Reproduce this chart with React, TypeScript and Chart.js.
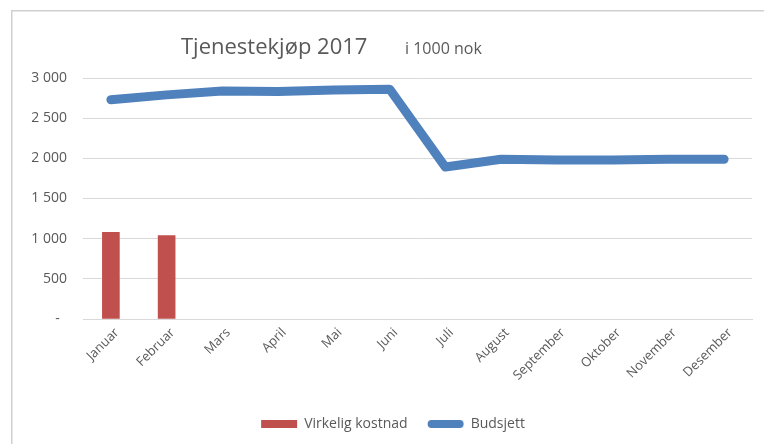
import React, { useEffect, useRef } from "react";
import { Chart, registerables } from "chart.js";

Chart.register(...registerables);

const months = [
  "Januar", "Februar", "Mars", "April", "Mai", "Juni",
  "Juli", "August", "September", "Oktober", "November", "Desember",
];
const actualCost = [1080, 1037, null, null, null, null, null, null, null, null, null, null];
const budget = [2730, 2790, 2838, 2832, 2850, 2860, 1892, 1988, 1980, 1980, 1988, 1988];
const yTicks = [0, 500, 1000, 1500, 2000, 2500, 3000];
const titleText = "Tjenestekjøp 2017";
const unitText = "i 1000 nok";
const seriesNames = ["Virkelig kostnad", "Budsjett"];

const FONT = "'Open Sans', sans-serif";
const GRAY = "#595959";
const GRID = "#D9D9D9";
const RED = "#C0504D";
const BLUE = "#4F81BD";

function fmt(v: number): string {
  if (v === 0) return "-  ";
  return String(v).replace(/\B(?=(\d{3})+(?!\d))/g, " ");
}

const decorPlugin = {
  id: "decor",
  afterLayout(chart: any) {
    const lg = chart.legend;
    if (lg) {
      lg.left += 17;
      lg.right += 17;
    }
  },
  beforeDraw(chart: any) {
    const ctx = chart.ctx;
    ctx.save();
    ctx.fillStyle = "#ffffff";
    ctx.fillRect(0, 0, chart.width, chart.height);
    ctx.strokeStyle = "#D0D0D0";
    ctx.lineWidth = 1.5;
    ctx.strokeRect(11.75, 10.75, 900, 600);
    ctx.restore();
  },
  afterDraw(chart: any) {
    const ctx = chart.ctx;
    ctx.save();
    ctx.fillStyle = GRAY;
    ctx.textAlign = "left";
    ctx.textBaseline = "alphabetic";
    ctx.font = `22px ${FONT}`;
    ctx.fillText(titleText, 181, 54);
    ctx.font = `16px ${FONT}`;
    ctx.fillText(unitText, 405, 54);
    ctx.restore();
  },
};

export default function App() {
  const ref = useRef<HTMLCanvasElement | null>(null);

  useEffect(() => {
    if (!ref.current) return;
    const chart = new Chart(ref.current, {
      type: "bar",
      data: {
        labels: months,
        datasets: [
          {
            type: "bar",
            label: seriesNames[0],
            data: actualCost,
            backgroundColor: RED,
            borderWidth: 0,
            barThickness: 17,
          },
          {
            type: "line",
            label: seriesNames[1],
            data: budget,
            borderColor: BLUE,
            backgroundColor: BLUE,
            borderWidth: 9,
            borderCapStyle: "round",
            borderJoinStyle: "round",
            pointRadius: 0,
            tension: 0,
            fill: false,
          },
        ],
      } as any,
      options: {
        responsive: false,
        animation: false,
        layout: { padding: { left: 0, right: 12, top: 78, bottom: 3 } },
        plugins: {
          title: { display: false },
          tooltip: { enabled: false },
          legend: {
            position: "bottom",
            labels: {
              font: { family: FONT, size: 14 },
              color: GRAY,
              boxWidth: 36,
              boxHeight: 8,
              padding: 20,
              useBorderRadius: true,
              generateLabels: () => [
                {
                  text: seriesNames[0],
                  fillStyle: RED,
                  strokeStyle: RED,
                  lineWidth: 0,
                  fontColor: GRAY,
                  datasetIndex: 0,
                },
                {
                  text: seriesNames[1],
                  fillStyle: BLUE,
                  strokeStyle: BLUE,
                  lineWidth: 0,
                  fontColor: GRAY,
                  borderRadius: 4,
                  datasetIndex: 1,
                },
              ],
            },
          },
        },
        scales: {
          x: {
            grid: { display: false, drawTicks: false },
            border: { display: true, color: GRID, width: 1 },
            ticks: {
              color: GRAY,
              font: { family: FONT, size: 13 },
              minRotation: 45,
              maxRotation: 45,
              autoSkip: false,
              padding: 6,
              labelOffset: 6,
            },
            afterFit(scale: any) {
              scale.height = 78;
            },
          },
          y: {
            min: 0,
            max: 3000,
            afterBuildTicks(scale: any) {
              scale.ticks = yTicks.map((v) => ({ value: v }));
            },
            grid: { color: GRID, lineWidth: 1, drawTicks: false },
            border: { display: false },
            ticks: {
              color: GRAY,
              font: { family: FONT, size: 14 },
              padding: 16,
              callback: (v: any) => fmt(Number(v)),
            },
            afterFit(scale: any) {
              scale.width = 83;
            },
          },
        },
      } as any,
      plugins: [decorPlugin],
    });
    return () => chart.destroy();
  }, []);

  return (
    <div style={{ position: "fixed", left: 0, top: 0, width: 764, height: 444, background: "#fff" }}>
      <canvas ref={ref} width={764} height={444} style={{ display: "block" }} />
    </div>
  );
}
